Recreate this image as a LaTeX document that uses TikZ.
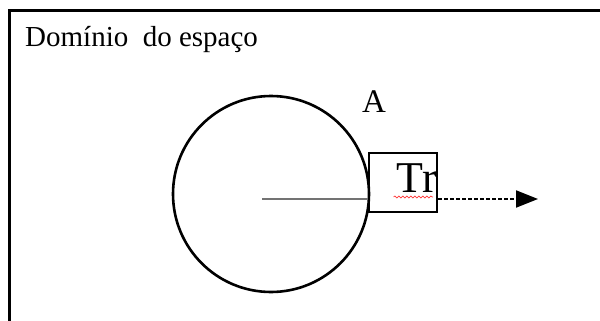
\documentclass[tikz,border=0pt]{standalone}
\usepackage{fontspec}
\setmainfont{Liberation Serif}
\usetikzlibrary{arrows.meta, positioning, decorations.pathmorphing}

\begin{document}
\begin{tikzpicture}[
  x=1pt, y=-1pt,
  >=Triangle,
  frame/.style={draw, line width=3.5pt},
  body/.style={circle, draw, line width=2.6pt, minimum size=196pt, inner sep=0pt},
  trbox/.style={draw, line width=2.8pt, minimum width=68pt, minimum height=59pt, inner sep=0pt},
  radius/.style={draw=black!55, line width=1.6pt},
  arrow/.style={-{Triangle[length=22pt, width=17pt]}, line width=2pt, dash pattern=on 4pt off 2pt},
  squiggle/.style={draw=red!80, line width=0.7pt, decorate, decoration={snake, amplitude=1pt, segment length=4pt}}
]

  %=======================================
  \useasboundingbox (0,0) rectangle (600,321);

  % cadre du domaine
  \draw[frame] (9.5,321) -- (9.5,10.5) -- (600,10.5);
  \node[anchor=base west, inner sep=0pt, font=\fontsize{29}{31}\selectfont] (title) at (25,47) {Domínio~ do espaço};

  % corps et transmetteur
  \node[body] (ball) at (271,194) {};
  \node[trbox] (tr) at (403,182.5) {};
  \node[anchor=base east, inner sep=0pt, font=\fontsize{44}{46}\selectfont] (trtext) at (437,192) {Tr};
  \node[anchor=base, inner sep=0pt, font=\fontsize{33}{35}\selectfont] (lblA) at (374,112) {A};

  \coordinate (hub) at (262,199);
  \coordinate (tip) at (538,199);

  % Flèches
  \draw[radius] (hub) -- (hub -| tr.west);
  \draw[arrow] (hub -| tr.east) -- (tip);
  \draw[squiggle] ([xshift=-3pt, yshift=-5pt]trtext.base west) -- ([xshift=-4pt, yshift=-5pt]trtext.base east);

  %=======================================

\end{tikzpicture}
\end{document}
